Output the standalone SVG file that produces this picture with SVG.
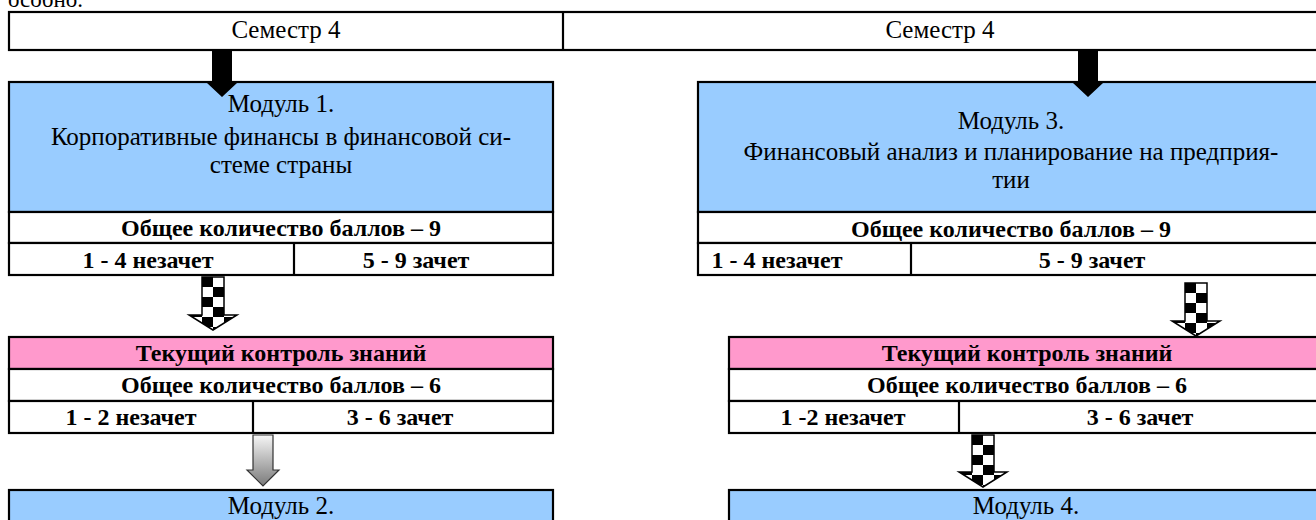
<svg xmlns="http://www.w3.org/2000/svg" width="1316" height="520" viewBox="0 0 1316 520">
<style>
  .box { stroke: #000; stroke-width: 2.2; }
  .blue { fill: #99ccff; }
  .pink { fill: #ff99cc; }
  .white { fill: #ffffff; }
  .ln { stroke: #000; stroke-width: 2.2; fill: none; }
  .reg { font-family: "Liberation Serif", "Times New Roman", serif; font-size: 25px; fill: #000; text-anchor: middle; }
  .bold { font-family: "Liberation Serif", "Times New Roman", serif; font-size: 24px; font-weight: bold; fill: #000; text-anchor: middle; }
  .chk { fill: url(#checker); stroke: #000; stroke-width: 1.5; }
  .gry { fill: url(#grayGrad); stroke: #333; stroke-width: 1.2; }
  .blk { fill: #000; stroke: none; }
</style>
<defs>
  <pattern id="checker" patternUnits="userSpaceOnUse" x="-11" y="0" width="22" height="20">
    <rect x="0" y="0" width="22" height="20" fill="#fff"/>
    <rect x="0" y="0" width="11" height="10" fill="#000"/>
    <rect x="11" y="10" width="11" height="10" fill="#000"/>
  </pattern>
  <linearGradient id="grayGrad" x1="0" y1="0" x2="0" y2="1">
    <stop offset="0" stop-color="#f6f6f6"/>
    <stop offset="1" stop-color="#7a7a7a"/>
  </linearGradient>
</defs>
<rect x="0" y="0" width="1316" height="520" fill="#fff"/>
<text x="8" y="7" font-family="Liberation Serif, serif" font-size="23" fill="#000">особно.</text>

<g id="semester">
  <rect class="box white" x="9" y="12" width="1320" height="38"/>
  <line class="ln" x1="563" y1="12" x2="563" y2="50"/>
  <text class="reg" x="286" y="38">Семестр 4</text>
  <text class="reg" x="940" y="38">Семестр 4</text>
</g>

<g id="module1">
  <rect class="box blue" x="9" y="82" width="544" height="130"/>
  <text class="reg" x="281" y="112">Модуль 1.</text>
  <text class="reg" x="281" y="145">Корпоративные финансы в финансовой си-</text>
  <text class="reg" x="281" y="173">стеме страны</text>
  <rect class="box white" x="9" y="212" width="544" height="31"/>
  <text class="bold" x="281" y="236">Общее количество баллов – 9</text>
  <rect class="box white" x="9" y="243" width="544" height="32"/>
  <line class="ln" x1="294" y1="243" x2="294" y2="275"/>
  <text class="bold" x="148" y="268">1 - 4 незачет</text>
  <text class="bold" x="416" y="268">5 - 9 зачет</text>
</g>

<g id="control1">
  <rect class="box pink" x="9" y="337" width="544" height="32"/>
  <text class="bold" x="281" y="361">Текущий контроль знаний</text>
  <rect class="box white" x="9" y="369" width="544" height="32"/>
  <text class="bold" x="281" y="393">Общее количество баллов – 6</text>
  <rect class="box white" x="9" y="401" width="544" height="32"/>
  <line class="ln" x1="253" y1="401" x2="253" y2="433"/>
  <text class="bold" x="131" y="425">1 - 2 незачет</text>
  <text class="bold" x="400" y="425">3 - 6 зачет</text>
</g>

<g id="module2">
  <rect class="box blue" x="9" y="490" width="544" height="40"/>
  <text class="reg" x="281" y="514">Модуль 2.</text>
</g>

<g id="module3">
  <rect class="box blue" x="698" y="82" width="630" height="130"/>
  <text class="reg" x="1011" y="129">Модуль 3.</text>
  <text class="reg" x="1011" y="160">Финансовый анализ и планирование на предприя-</text>
  <text class="reg" x="1011" y="188">тии</text>
  <rect class="box white" x="698" y="212" width="630" height="31"/>
  <text class="bold" x="1011" y="237">Общее количество баллов – 9</text>
  <rect class="box white" x="698" y="243" width="630" height="32"/>
  <line class="ln" x1="911" y1="243" x2="911" y2="275"/>
  <text class="bold" x="777" y="268">1 - 4 незачет</text>
  <text class="bold" x="1092" y="268">5 - 9 зачет</text>
</g>

<g id="control2">
  <rect class="box pink" x="729" y="337" width="600" height="32"/>
  <text class="bold" x="1027" y="361">Текущий контроль знаний</text>
  <rect class="box white" x="729" y="369" width="600" height="32"/>
  <text class="bold" x="1027" y="393">Общее количество баллов – 6</text>
  <rect class="box white" x="729" y="401" width="600" height="32"/>
  <line class="ln" x1="959" y1="401" x2="959" y2="433"/>
  <text class="bold" x="843" y="425">1 -2 незачет</text>
  <text class="bold" x="1140" y="425">3 - 6 зачет</text>
</g>

<g id="module4">
  <rect class="box blue" x="729" y="490" width="600" height="40"/>
  <text class="reg" x="1026" y="514">Модуль 4.</text>
</g>

<g id="connectors">
  <path class="blk" transform="translate(222,50)" d="M-10,0 H10 V33 H15 L0,47 L-15,33 H-10 Z"/>
  <path class="blk" transform="translate(1088,50)" d="M-10,0 H10 V33 H15 L0,47 L-15,33 H-10 Z"/>
  <path class="chk" transform="translate(213,277)" d="M-11,0 H11 V38 H24 L0,53 L-24,38 H-11 Z"/>
  <path class="chk" transform="translate(1196,283)" d="M-11,0 H11 V38 H24 L0,53 L-24,38 H-11 Z"/>
  <path class="gry" transform="translate(263,435)" d="M-10,0 H10 V35 H16 L0,51 L-16,35 H-10 Z"/>
  <path class="chk" transform="translate(983,435)" d="M-11,0 H11 V37 H24 L0,52 L-24,37 H-11 Z"/>
</g>
</svg>
